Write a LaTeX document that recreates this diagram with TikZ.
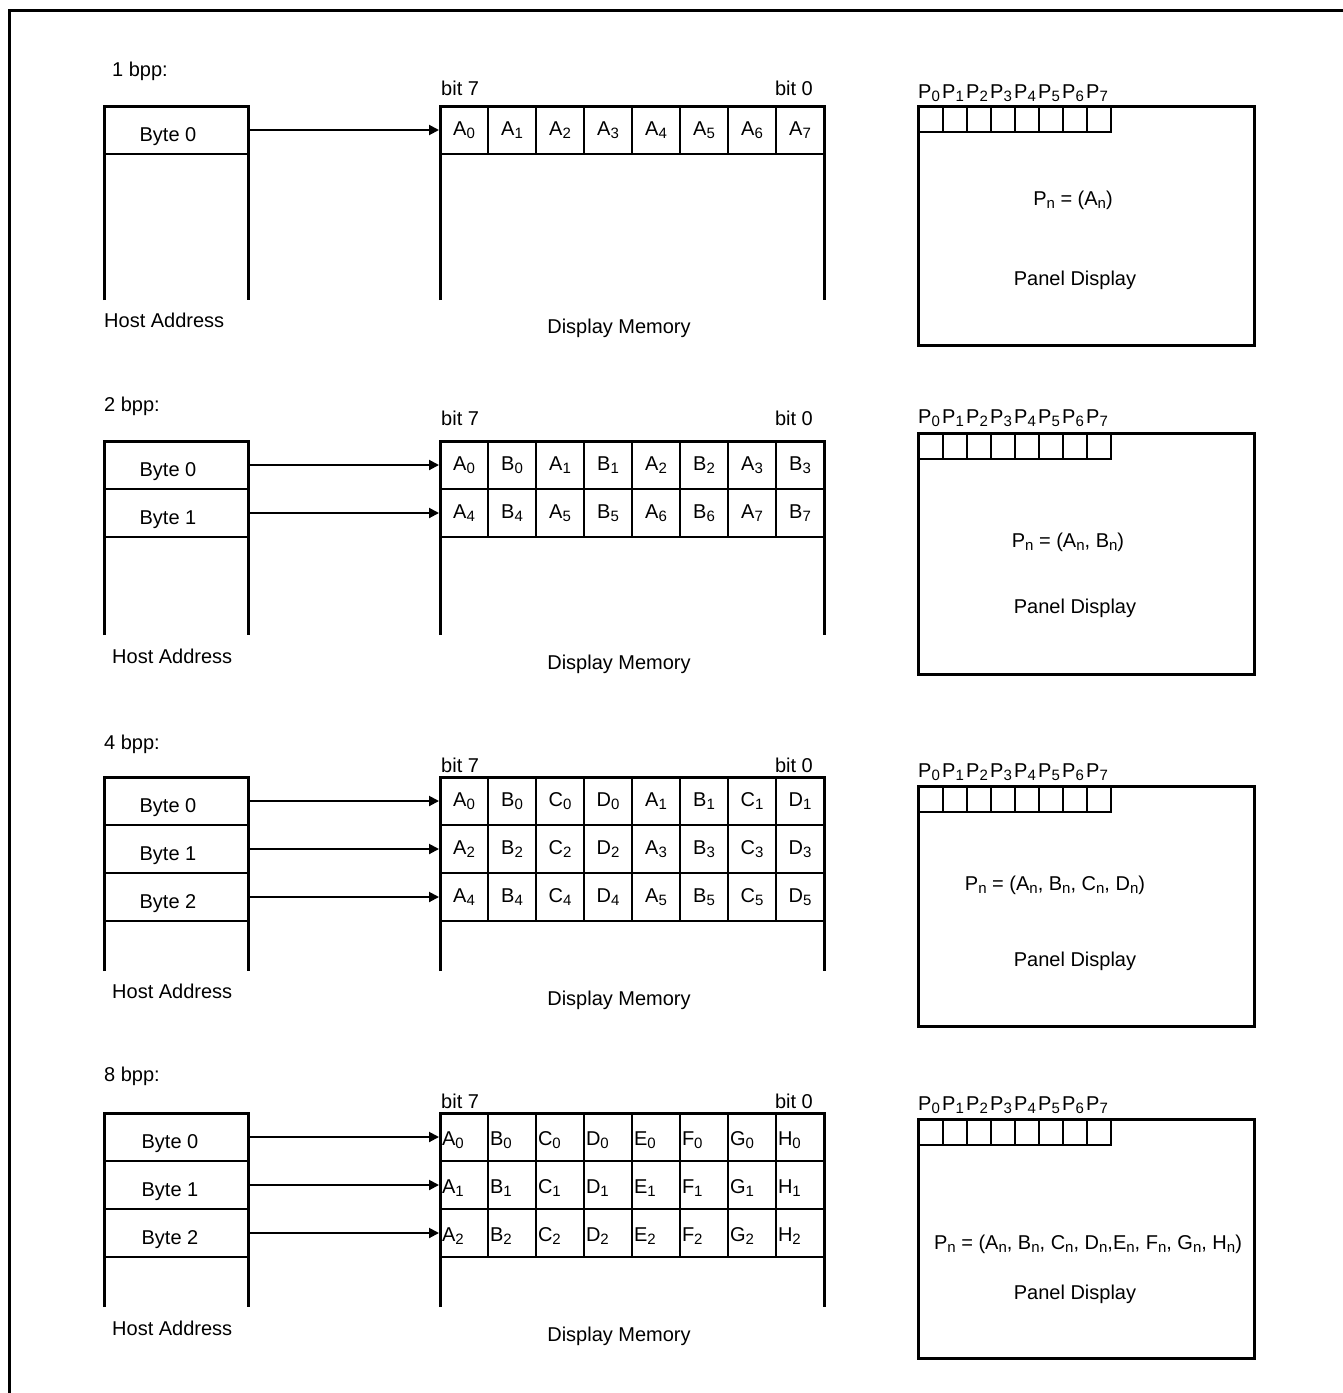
\documentclass[tikz,border=0pt]{standalone}
\usepackage{fontspec}
\setmainfont{Liberation Sans}
\usetikzlibrary{arrows.meta}
\newcommand\sbs[1]{\raisebox{-3.5pt}{\fontsize{15}{15}\selectfont #1}}
\newcommand\fs{\fontsize{20}{24}\selectfont}
\tikzset{
  thickline/.style={line width=3pt},
  hcell/.style={draw, line width=2pt, minimum width=144pt, minimum height=48pt, inner sep=0pt, text height=22pt, text depth=0pt},
  mcell/.style={draw, line width=2pt, minimum width=48pt, minimum height=48pt, inner sep=0pt},
  mcellL/.style={draw, line width=2pt, minimum width=48pt, minimum height=48pt, inner xsep=2pt, inner ysep=0pt, text width=44pt, align=left, text height=19pt, text depth=3pt},
  pcell/.style={draw, line width=2pt, minimum width=24pt, minimum height=25pt, inner sep=0pt},
  lbl/.style={inner sep=0pt},
  arr/.style={line width=2pt, -{Triangle[length=10pt,width=10pt]}},
}
\newcommand\bytetxt[2][16pt]{Byte #2\rule{#1}{0pt}}
\begin{document}
\begin{tikzpicture}[x=1pt,y=-1pt,font=\fs]
\useasboundingbox (0,0) rectangle (1343,1393);
\draw[thickline] (9,1393) -- (9,10) -- (1343,10);

% ================= 1 bpp =================
\node[lbl,anchor=base west] (t1) at (112,76) {1 bpp:};
\node[lbl,anchor=base west] (b7a) at (441,95) {bit 7};
\node[lbl,anchor=base east] (b0a) at (813,95) {bit 0};
\foreach \l/\d [count=\c from 0] in {A/0,A/1,A/2,A/3,A/4,A/5,A/6,A/7}
  \node[mcell] (m1r0c\c) at ({464+48*\c},130) {\l\sbs{\d}};
\node[hcell] (h1r0) at (176,130) {\bytetxt{0}};
\draw[arr] (h1r0.east) -- (m1r0c0.west);
\draw[thickline] (104,300) -- (104,106) -- (248,106) -- (248,300);
\draw[thickline] (440,300) -- (440,106) -- (824,106) -- (824,300);
\node[lbl,anchor=base west] (ha1) at (104,327) {Host Address};
\node[lbl,anchor=base] (dm1) at (619,333) {Display Memory};
\foreach \k in {0,...,7} {
  \node[pcell,anchor=north west] (q1c\k) at ({918+24*\k},106) {};
  \node[lbl,anchor=base west] (q1l\k) at ({918+24*\k},98) {P\sbs{\k}};
}
\draw[thickline] (918,106) rectangle (1254,345);
\node[lbl,anchor=base] (f1) at (1073,205) {P\sbs{n} = (A\sbs{n})};
\node[lbl,anchor=base] (pd1) at (1075,285) {Panel Display};

% ================= 2 bpp =================
\node[lbl,anchor=base west] (t2) at (104,411) {2 bpp:};
\node[lbl,anchor=base west] (b7b) at (441,425) {bit 7};
\node[lbl,anchor=base east] (b0b) at (813,425) {bit 0};
\foreach \l/\d [count=\c from 0] in {A/0,B/0,A/1,B/1,A/2,B/2,A/3,B/3}
  \node[mcell] (m2r0c\c) at ({464+48*\c},465) {\l\sbs{\d}};
\foreach \l/\d [count=\c from 0] in {A/4,B/4,A/5,B/5,A/6,B/6,A/7,B/7}
  \node[mcell] (m2r1c\c) at ({464+48*\c},513) {\l\sbs{\d}};
\node[hcell] (h2r0) at (176,465) {\bytetxt{0}};
\node[hcell] (h2r1) at (176,513) {\bytetxt{1}};
\draw[arr] (h2r0.east) -- (m2r0c0.west);
\draw[arr] (h2r1.east) -- (m2r1c0.west);
\draw[thickline] (104,635) -- (104,441) -- (248,441) -- (248,635);
\draw[thickline] (440,635) -- (440,441) -- (824,441) -- (824,635);
\node[lbl,anchor=base west] (ha2) at (112,663) {Host Address};
\node[lbl,anchor=base] (dm2) at (619,669) {Display Memory};
\foreach \k in {0,...,7} {
  \node[pcell,anchor=north west] (q2c\k) at ({918+24*\k},433) {};
  \node[lbl,anchor=base west] (q2l\k) at ({918+24*\k},423) {P\sbs{\k}};
}
\draw[thickline] (918,433) rectangle (1254,674);
\node[lbl,anchor=base] (f2) at (1068,547) {P\sbs{n} = (A\sbs{n}, B\sbs{n})};
\node[lbl,anchor=base] (pd2) at (1075,613) {Panel Display};

% ================= 4 bpp =================
\node[lbl,anchor=base west] (t3) at (104,749) {4 bpp:};
\node[lbl,anchor=base west] (b7c) at (441,772) {bit 7};
\node[lbl,anchor=base east] (b0c) at (813,772) {bit 0};
\foreach \r in {0,1,2} {
  \pgfmathtruncatemacro\ea{2*\r}
  \pgfmathtruncatemacro\eb{2*\r+1}
  \foreach \l/\d [count=\c from 0] in {A/\ea,B/\ea,C/\ea,D/\ea,A/\eb,B/\eb,C/\eb,D/\eb}
    \node[mcell] (m3r\r c\c) at ({464+48*\c},{801+48*\r}) {\l\sbs{\d}};
  \node[hcell] (h3r\r) at (176,{801+48*\r}) {\bytetxt{\r}};
  \draw[arr] (h3r\r.east) -- (m3r\r c0.west);
}
\draw[thickline] (104,971) -- (104,777) -- (248,777) -- (248,971);
\draw[thickline] (440,971) -- (440,777) -- (824,777) -- (824,971);
\node[lbl,anchor=base west] (ha3) at (112,998) {Host Address};
\node[lbl,anchor=base] (dm3) at (619,1005) {Display Memory};
\foreach \k in {0,...,7} {
  \node[pcell,anchor=north west] (q3c\k) at ({918+24*\k},786) {};
  \node[lbl,anchor=base west] (q3l\k) at ({918+24*\k},777) {P\sbs{\k}};
}
\draw[thickline] (918,786) rectangle (1254,1026);
\node[lbl,anchor=base] (f3) at (1055,890) {P\sbs{n} = (A\sbs{n}, B\sbs{n}, C\sbs{n}, D\sbs{n})};
\node[lbl,anchor=base] (pd3) at (1075,966) {Panel Display};

% ================= 8 bpp =================
\node[lbl,anchor=base west] (t4) at (104,1081) {8 bpp:};
\node[lbl,anchor=base west] (b7d) at (441,1108) {bit 7};
\node[lbl,anchor=base east] (b0d) at (813,1108) {bit 0};
\foreach \r in {0,1,2} {
  \foreach \l [count=\c from 0] in {A,B,C,D,E,F,G,H}
    \node[mcellL] (m4r\r c\c) at ({464+48*\c},{1137+48*\r}) {\l\sbs{\r}};
  \node[hcell] (h4r\r) at (176,{1137+48*\r}) {\bytetxt[12pt]{\r}};
  \draw[arr] (h4r\r.east) -- (m4r\r c0.west);
}
\draw[thickline] (104,1307) -- (104,1113) -- (248,1113) -- (248,1307);
\draw[thickline] (440,1307) -- (440,1113) -- (824,1113) -- (824,1307);
\node[lbl,anchor=base west] (ha4) at (112,1335) {Host Address};
\node[lbl,anchor=base] (dm4) at (619,1341) {Display Memory};
\foreach \k in {0,...,7} {
  \node[pcell,anchor=north west] (q4c\k) at ({918+24*\k},1119) {};
  \node[lbl,anchor=base west] (q4l\k) at ({918+24*\k},1110) {P\sbs{\k}};
}
\draw[thickline] (918,1119) rectangle (1254,1358);
\node[lbl,anchor=base] (f4) at (1088,1249) {P\sbs{n} = (A\sbs{n}, B\sbs{n}, C\sbs{n}, D\sbs{n},E\sbs{n}, F\sbs{n}, G\sbs{n}, H\sbs{n})};
\node[lbl,anchor=base] (pd4) at (1075,1299) {Panel Display};
\end{tikzpicture}
\end{document}
